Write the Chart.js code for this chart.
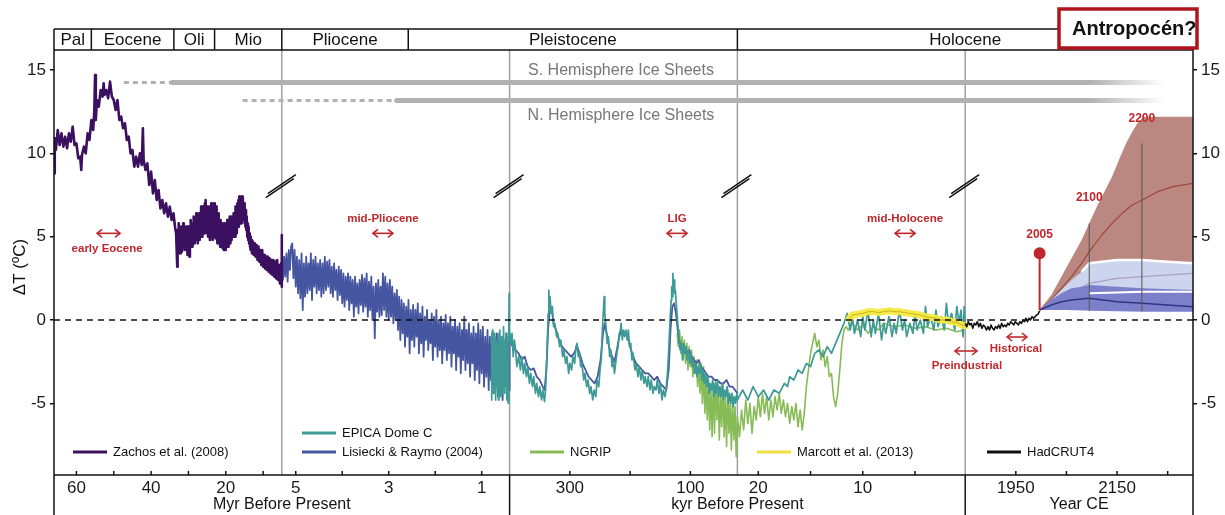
<!DOCTYPE html>
<html><head><meta charset="utf-8">
<script src="https://cdn.jsdelivr.net/npm/chart.js@4.4.1/dist/chart.umd.min.js"></script>
<style>html,body{margin:0;padding:0;background:#fff;overflow:hidden}canvas{display:block}</style>
</head><body>
<canvas id="c" width="1225" height="515"></canvas>
<script>
const FONT = "'Liberation Sans', Arial, Helvetica, sans-serif";
// ---- panel mappings (five equal panels on one linear axis 0..5) ----
function p1(myr){return (66-myr)/61;}
function p2(myr){return 1+(5.3-myr)/4.9;}
function p3(kyr){return 2+(400-kyr)/378;}
function p4(kyr){return 3+(22-kyr)/21.8;}
function p5(yr){return 4+(yr-1850)/450;}
function kyrX(k){ if(k>400) return p2(k/1000); if(k>22) return p3(k); return p4(k); }

// ---- tick labels ----
const ticksPanel1=[60,50,40,30,20,10], ticksPanel1Lab=['60','','40','','20',''];      // Myr
const ticksPanel2=[5,4,3,2,1], ticksPanel2Lab=['5','','3','','1'];                    // Myr
const ticksPanel3=[300,200,100], ticksPanel3Lab=['300','','100'];                     // kyr
const ticksPanel4=[20,15,10,5], ticksPanel4Lab=['20','','10',''];                     // kyr
const ticksPanel5=[1950,2050,2150,2250], ticksPanel5Lab=['1950','','2150',''];        // yr CE
const yTicks=[-5,0,5,10,15];
const epochNames=['Pal','Eocene','Oli','Mio','Pliocene','Pleistocene','Holocene'];
const epochStartsMyr=[56,33.9,23]; const plioPleistMyr=2.58;

// ---- Zachos et al. (2008) [Myr, dT] ----
const zachos=[[66,8.8],[65.8,10.9],[65.5,10.2],[65,11.4],[64.5,10.5],[64,11.2],[63.5,10.4],[63,11.0],[62.5,10.3],[62,11.2],[61.5,10.7],[61,11.6],[60.5,10.5],[60,10.6],[59.5,9.7],[59,9.8],[58.7,9.0],[58.5,9.9],[58,10.4],[57.5,10.0],[57,11.2],[56.5,10.8],[56,12.0],[55.5,11.4],[55.2,12.6],[55,14.7],[54.8,12.0],[54.5,13.2],[54,12.8],[53.5,13.8],[53,13.4],[52.7,14.2],[52.5,13.5],[52,13.8],[51.5,13.3],[51,14.3],[50.5,13.4],[50,13.2],[49.5,12.6],[49,13.2],[48.5,12.0],[48,12.2],[47.5,11.5],[47,11.8],[46.5,10.8],[46,11.0],[45.5,10.0],[45,10.2],[44.5,9.2],[44,9.8],[43.5,9.2],[43,10.0],[42.5,9.3],[42.2,11.5],[42,9.6],[41.5,9.0],[41,9.4],[40.5,8.1],[40,8.9],[39.5,7.6],[39,8.4],[38.5,7.2],[38,7.8],[37.5,6.7],[37,7.2],[36.5,6.4],[36,7.0],[35.5,6.2],[35,6.8],[34.5,6.0],[34,6.4],[33.6,5.6],[33.3,5.2],
[33,3.2],[32.9,5.4],[32.75,4.4],[32.6,5.8],[32.5,4.2],[32.4,5.2],[32.25,4.0],[32.1,5.6],[32,4.6],[31.9,5.4],[31.75,4.1],[31.6,5.0],[31.5,4.4],[31.4,5.8],[31.25,4.6],[31.1,5.5],[31,4.2],[30.9,5.2],[30.75,4.4],[30.6,5.6],[30.5,4.2],[30.4,5.0],[30.25,3.9],[30.1,5.6],[30,4.4],[29.85,5.2],[29.7,3.8],[29.6,5.4],[29.5,4.6],[29.4,6.0],[29.25,4.6],[29.1,5.6],[29,4.4],[28.9,5.8],[28.75,4.6],[28.6,6.2],[28.5,4.8],[28.4,5.6],[28.25,4.6],[28.1,6.0],[28,4.8],[27.9,6.4],[27.75,5.0],[27.6,5.8],[27.5,4.6],[27.4,6.2],[27.25,5.0],[27.1,6.4],[27,4.8],[26.9,6.0],[26.75,5.0],[26.6,6.8],[26.5,5.2],[26.4,6.4],[26.25,5.0],[26.1,6.8],[26,5.4],[25.9,6.6],[25.75,5.2],[25.6,7.0],[25.5,5.6],[25.4,7.2],[25.25,5.4],[25.1,6.6],[25,5.2],[24.9,6.8],[24.75,5.0],[24.6,6.4],[24.5,5.4],[24.4,6.8],[24.25,4.8],[24.1,6.2],[24,5.0],[23.9,7.0],[23.75,5.2],[23.6,6.6],[23.5,4.8],[23.4,6.4],[23.25,5.0],[23.1,7.0],[23,5.4],[22.9,6.6],[22.75,4.9],[22.6,6.8],[22.5,5.2],[22.4,6.4],[22.25,4.6],[22.1,6.2],[22,5.0],[21.9,6.4],[21.75,4.6],[21.6,5.8],[21.5,4.4],[21.4,6.0],[21.25,4.6],[21.1,5.6],[21,4.4],[20.9,5.8],[20.75,4.3],[20.6,5.4],[20.5,4.2],[20.4,5.8],[20.25,4.4],[20.1,5.6],[20,4.2],[19.9,5.6],[19.75,4.4],[19.6,6.0],[19.5,4.6],[19.4,5.8],[19.25,4.4],[19.1,6.0],[19,4.8],[18.9,6.2],[18.75,4.6],[18.6,5.8],[18.5,4.8],[18.4,6.2],[18.25,5.0],[18.1,6.0],[18,5.0],[17.9,6.4],[17.75,5.2],[17.6,6.2],[17.5,5.0],[17.4,6.8],[17.25,5.4],[17.1,6.6],[17,5.2],[16.9,7.0],[16.75,5.6],[16.6,7.2],[16.5,5.6],[16.4,7.4],[16.25,5.8],[16.1,7.0],[16,6.0],[15.9,7.4],[15.75,5.8],[15.6,7.2],[15.5,6.0],[15.4,7.4],[15.25,6.0],[15.1,7.0],[15,5.8],[14.9,6.8],[14.75,5.6],[14.6,6.6],[14.5,5.4],[14.4,6.2],[14.25,5.0],[14.1,5.8],[14,4.8],[13.9,5.6],[13.75,4.6],[13.6,5.2],[13.5,4.4],[13.4,5.0],[13.25,4.2],[13.1,4.8],[13,4.0],[12.75,4.7],[12.5,3.9],[12.25,4.6],[12,3.8],[11.75,4.5],[11.5,3.6],[11.25,4.4],[11,3.5],[10.75,4.2],[10.5,3.3],[10.25,4.2],[10,3.2],[9.75,3.9],[9.5,3.1],[9.25,3.8],[9,3.0],[8.75,3.8],[8.5,2.9],[8.25,3.7],[8,2.8],[7.75,3.6],[7.5,2.7],[7.25,3.6],[7,2.6],[6.75,3.5],[6.5,2.5],[6.25,3.6],[6,2.4],[5.75,3.3],[5.5,2.2],[5.2,3.4],[5.0,5.1],[5.0,2.0]];

// ---- Lisiecki & Raymo (2004) [Myr, dT] panel 2 ----
const lr04Myr=[[5.30,4.0],[5.275,2.4],[5.25,3.8],[5.225,2.6],[5.20,4.0],[5.175,2.3],[5.15,4.2],[5.125,3.0],[5.10,4.4],[5.075,4.6],[5.05,2.5],[5.025,4.2],[5.00,2.0],[4.975,3.8],[4.95,1.6],[4.925,3.6],[4.90,1.3],[4.875,4.0],[4.85,0.6],[4.825,3.4],[4.80,1.4],[4.775,3.8],[4.75,1.6],[4.725,3.4],[4.70,1.8],[4.675,4.0],[4.65,1.2],[4.625,3.6],[4.60,2.0],[4.575,3.8],[4.55,1.6],[4.525,3.4],[4.50,1.8],[4.475,3.6],[4.45,1.4],[4.425,3.4],[4.40,1.6],[4.375,3.8],[4.35,1.8],[4.325,3.5],[4.30,2.0],[4.275,3.6],[4.25,1.6],[4.225,3.2],[4.20,1.4],[4.175,3.4],[4.15,1.8],[4.125,3.0],[4.10,1.2],[4.075,3.2],[4.05,1.5],[4.025,3.0],[4.00,1.0],[3.975,2.8],[3.95,0.8],[3.925,2.6],[3.90,1.2],[3.875,2.8],[3.85,0.6],[3.825,2.6],[3.80,1.0],[3.775,2.4],[3.75,0.2],[3.725,2.6],[3.70,0.8],[3.675,2.2],[3.65,0.4],[3.625,2.4],[3.60,0.9],[3.575,2.7],[3.55,0.5],[3.525,2.5],[3.50,0.8],[3.475,2.8],[3.45,0.2],[3.425,2.3],[3.40,0.6],[3.375,2.6],[3.35,0.0],[3.325,2.0],[3.30,-1.1],[3.275,2.2],[3.25,0.5],[3.225,2.4],[3.20,0.2],[3.175,2.0],[3.15,0.3],[3.125,2.8],[3.10,0.6],[3.075,2.6],[3.05,0.2],[3.025,2.2],[3.00,0.0],[2.975,2.4],[2.95,0.2],[2.925,2.0],[2.90,-0.2],[2.875,1.6],[2.85,0.0],[2.825,1.8],[2.80,-0.6],[2.775,1.4],[2.75,-1.2],[2.725,1.2],[2.70,-0.8],[2.675,1.0],[2.65,-1.6],[2.625,0.8],[2.60,-1.0],[2.575,1.2],[2.55,-2.0],[2.525,0.6],[2.50,-1.2],[2.475,0.9],[2.45,-1.6],[2.425,0.6],[2.40,-1.0],[2.375,1.0],[2.35,-2.0],[2.325,0.4],[2.30,-1.4],[2.275,0.8],[2.25,-2.2],[2.225,0.2],[2.20,-1.2],[2.175,0.6],[2.15,-1.8],[2.125,0.0],[2.10,-1.4],[2.075,0.4],[2.05,-2.4],[2.025,0.2],[2.00,-1.6],[1.975,0.6],[1.95,-2.2],[1.925,0.0],[1.90,-1.8],[1.875,0.2],[1.85,-2.6],[1.825,-0.2],[1.80,-1.8],[1.775,0.3],[1.75,-2.4],[1.725,-0.2],[1.70,-2.0],[1.675,0.2],[1.65,-2.8],[1.625,-0.4],[1.60,-2.0],[1.575,0.0],[1.55,-3.0],[1.525,-0.4],[1.50,-2.2],[1.475,-0.2],[1.45,-3.2],[1.425,-0.6],[1.40,-2.4],[1.375,0.2],[1.35,-3.0],[1.325,-0.6],[1.30,-2.6],[1.275,-0.2],[1.25,-3.4],[1.225,-0.8],[1.20,-2.6],[1.175,-0.4],[1.15,-3.6],[1.125,-0.8],[1.10,-3.0],[1.075,-0.2],[1.05,-3.8],[1.025,-0.6],[1.00,-3.2],[0.975,-0.4],[0.95,-4.0],[0.925,-1.0],[0.90,-3.4],[0.875,-0.6],[0.85,-4.2],[0.825,-1.0],[0.80,-3.6],[0.775,-0.8],[0.75,-4.4],[0.725,-1.0],[0.70,-3.8],[0.675,-0.8],[0.65,-4.6],[0.625,-1.2],[0.60,-3.8],[0.575,-1.0],[0.55,-4.8],[0.525,-1.2],[0.50,-4.0],[0.475,-0.8],[0.45,-4.6],[0.425,-1.0],[0.40,-4.2]];
// ---- Lisiecki & Raymo (2004) [kyr, dT] panel 3 ----
const lr04Kyr=[[400,-1.0],[395,-1.6],[390,-1.8],[385,-2.0],[380,-2.4],[375,-2.2],[370,-2.8],[365,-3.0],[360,-2.9],[355,-3.4],[350,-3.6],[345,-4.0],[342,-4.2],[339,-3.0],[336,-0.5],[333,0.8],[330,0.6],[327,-0.2],[323,-0.6],[318,-1.2],[313,-1.6],[308,-1.8],[303,-2.0],[298,-2.2],[293,-2.0],[288,-1.6],[284,-2.0],[279,-2.6],[274,-3.0],[269,-3.4],[264,-3.6],[259,-3.8],[254,-3.4],[249,-2.4],[245,-0.8],[242,-0.2],[239,-0.8],[235,-1.6],[230,-2.2],[226,-2.5],[222,-1.8],[218,-1.0],[215,-0.6],[212,-0.8],[208,-0.8],[204,-1.0],[200,-1.6],[195,-2.2],[190,-2.6],[185,-2.8],[180,-3.0],[175,-3.2],[170,-3.2],[165,-3.4],[160,-3.6],[155,-3.4],[150,-3.8],[145,-4.0],[140,-4.2],[136,-3.0],[133,-0.6],[130,0.8],[127,1.0],[124,0.4],[121,-0.6],[118,-1.4],[114,-1.8],[110,-1.6],[106,-2.0],[102,-1.8],[98,-2.2],[94,-2.4],[90,-2.6],[86,-2.4],[82,-2.8],[78,-3.0],[74,-3.2],[70,-3.4],[65,-3.4],[60,-3.6],[55,-3.6],[50,-3.8],[45,-3.8],[40,-3.6],[35,-4.0],[30,-4.0],[26,-4.2],[22,-4.4]];
// ---- EPICA Dome C [kyr, dT] ----
const epica=[[800,-4.8],[790,-1.0],[780,-4.2],[770,-0.6],[760,-3.8],[750,-1.2],[740,-4.4],[730,-0.8],[720,-3.0],[710,-1.4],[700,-4.8],[690,-1.2],[680,-4.0],[670,-1.6],[660,-4.4],[650,-2.0],[640,-4.8],[630,-0.8],[620,-3.2],[610,-0.6],[600,-4.6],[590,-1.6],[580,-3.8],[570,-1.0],[560,-4.4],[550,-1.8],[540,-3.6],[530,-0.4],[520,-3.0],[510,-1.4],[500,-4.4],[490,-1.2],[480,-3.8],[470,-0.8],[460,-4.8],[450,-2.4],[440,-4.4],[430,-5.0],[420,-3.2],[415,-1.0],[410,1.6],[405,-0.6],
[398,-1.4],[396,-0.8],[394,-2.2],[392,-1.2],[390,-1.8],[388,-2.8],[385,-2.2],[382,-3.0],[380,-2.2],[377,-3.2],[375,-2.6],[372,-3.4],[370,-2.8],[367,-3.8],[365,-3.2],[362,-4.0],[360,-3.4],[357,-4.4],[355,-3.8],[352,-4.6],[350,-4.0],[347,-4.8],[345,-4.2],[342,-4.9],[340,-4.0],[338,-2.0],[336,0.4],[335,1.8],[334,0.6],[333,1.4],[331,0.4],[329,0.8],[327,-0.4],[325,-0.2],[322,-1.0],[320,-0.8],[317,-1.6],[315,-1.2],[312,-2.2],[310,-1.8],[307,-2.6],[305,-2.2],[302,-3.2],[300,-2.6],[297,-3.0],[295,-2.2],[292,-2.6],[290,-1.6],[288,-1.4],[286,-2.2],[284,-2.0],[282,-2.8],[280,-2.6],[277,-3.6],[275,-3.2],[272,-4.0],[270,-3.6],[267,-4.4],[265,-4.0],[262,-4.8],[260,-4.2],[257,-4.6],[255,-3.6],[252,-4.0],[250,-3.0],[248,-2.4],[246,-0.6],[244,0.8],[243,1.4],[242,0.4],[240,-0.4],[238,-1.4],[236,-1.0],[234,-2.2],[232,-1.8],[230,-2.8],[228,-2.4],[226,-3.2],[224,-2.6],[222,-2.0],[220,-1.6],[218,-0.8],[216,-0.6],[215,-0.2],[213,-1.2],[211,-0.6],[209,-1.0],[207,-0.6],[205,-1.2],[203,-0.6],[201,-1.6],[199,-1.4],[197,-2.4],[195,-2.0],[192,-3.0],[190,-2.6],[187,-3.4],[185,-2.8],[182,-3.6],[180,-3.0],[177,-3.8],[175,-3.4],[172,-4.0],[170,-3.4],[167,-4.2],[165,-3.6],[162,-4.4],[160,-4.0],[157,-4.2],[155,-3.6],[152,-4.4],[150,-3.8],[147,-4.8],[145,-4.2],[142,-4.6],[140,-4.0],[138,-3.2],[136,-1.8],[134,-0.2],[132,1.2],[131,2.0],[130,1.4],[129,2.8],[128,1.8],[127,2.4],[126,1.6],[125,1.8],[123,0.8],[121,-0.2],[119,-1.0],[117,-1.8],[115,-1.4],[113,-2.4],[111,-1.4],[109,-2.0],[107,-1.6],[105,-2.4],[103,-1.8],[101,-2.6],[99,-2.0],[97,-2.8],[95,-2.4],[93,-3.2],[91,-2.6],[89,-3.4],[87,-2.8],[85,-3.2],[83,-2.6],[81,-3.6],[79,-3.0],[77,-3.8],[75,-3.2],[73,-4.0],[71,-3.4],[69,-4.4],[67,-3.8],[65,-4.2],[63,-3.6],[61,-4.6],[59,-3.8],[57,-4.4],[55,-3.6],[53,-4.6],[51,-4.0],[49,-4.6],[47,-3.8],[45,-4.8],[43,-4.2],[41,-4.6],[39,-4.0],[37,-5.0],[35,-4.4],[33,-5.0],[31,-4.4],[29,-5.2],[27,-4.6],[25,-5.0],[23,-4.4],[22,-4.8],
[21.5,-4.2],[21,-4.8],[20.5,-4.0],[20,-4.6],[19.5,-4.2],[19,-4.8],[18.5,-4.2],[18,-4.4],[17.5,-3.8],[17.2,-4.0],[17.0,-3.4],[16.6,-3.6],[16.2,-3.0],[15.8,-3.2],[15.4,-2.6],[15.0,-2.8],[14.6,-2.0],[14.2,-1.8],[13.8,-2.2],[13.4,-1.6],[13.0,-2.0],[12.6,-1.4],[12.2,-0.8],[11.8,-0.2],[11.5,0.4],[11.2,-0.6],[11.0,0.2],[10.8,-0.8],[10.5,0.0],[10.2,-1.0],[10.0,0.2],[9.8,-0.6],[9.5,0.6],[9.2,-1.0],[9.0,0.0],[8.8,-0.8],[8.5,0.4],[8.2,-1.2],[8.0,-0.2],[7.8,-0.8],[7.5,0.2],[7.2,-1.0],[7.0,-0.2],[6.8,-0.8],[6.5,0.6],[6.2,-0.6],[6.0,0.0],[5.8,-1.0],[5.5,-0.2],[5.2,-0.8],[5.0,0.4],[4.8,-0.6],[4.5,0.0],[4.2,-0.8],[4.0,0.8],[3.8,-0.4],[3.5,0.2],[3.2,-0.6],[3.0,0.6],[2.8,-0.4],[2.5,0.2],[2.2,-0.6],[2.0,1.0],[1.8,-0.2],[1.5,0.4],[1.2,-0.6],[1.0,0.8],[0.8,-0.2],[0.6,0.6],[0.4,-1.0],[0.3,0.8],[0.2,-0.4]];
// ---- NGRIP [kyr, dT] ----
const ngrip=[[122,-0.8],[120,-1.6],[118,-0.6],[116,-2.0],[114,-1.0],[112,-2.4],[110,-1.2],[108,-2.6],[106,-1.4],[104,-3.0],[102,-1.6],[100,-2.8],[98,-1.8],[96,-3.4],[94,-2.2],[92,-3.2],[90,-2.4],[88,-4.0],[86,-2.6],[84,-4.4],[82,-3.0],[80,-5.0],[78,-2.8],[76,-5.6],[74,-3.4],[72,-6.0],[70,-3.6],[68,-6.6],[66,-4.0],[64,-7.0],[62,-3.8],[60,-6.8],[58,-3.6],[56,-6.0],[54,-4.0],[52,-7.2],[50,-4.4],[48,-6.4],[46,-3.8],[44,-7.0],[42,-4.6],[40,-7.6],[38,-4.2],[36,-6.8],[34,-5.0],[32,-7.8],[30,-4.6],[28,-7.2],[26,-5.2],[24,-8.2],[22,-5.8],
[21.8,-7.0],[21.6,-5.4],[21.4,-6.6],[21.2,-4.8],[21.0,-6.2],[20.8,-5.0],[20.6,-6.8],[20.4,-5.2],[20.2,-6.0],[20.0,-4.6],[19.8,-5.8],[19.6,-4.4],[19.4,-5.6],[19.2,-4.6],[19.0,-6.0],[18.8,-4.8],[18.6,-5.8],[18.4,-4.6],[18.2,-5.4],[18.0,-4.4],[17.8,-5.6],[17.6,-4.8],[17.4,-5.8],[17.2,-5.0],[17.0,-6.2],[16.8,-5.2],[16.6,-6.0],[16.4,-5.0],[16.2,-6.4],[16.0,-5.4],[15.8,-6.6],[15.6,-5.6],[15.4,-4.0],[15.2,-3.0],[15.0,-2.0],[14.8,-1.4],[14.6,-0.8],[14.4,-1.6],[14.2,-1.2],[14.0,-2.4],[13.8,-1.8],[13.6,-2.8],[13.4,-2.2],[13.2,-3.4],[13.0,-3.2],[12.8,-4.6],[12.6,-5.2],[12.4,-4.4],[12.2,-3.0],[12.0,-1.4],[11.8,-0.6],[11.6,-0.4],[11.4,-0.6],[11.0,-0.2],[10.5,-0.6],[10.0,-0.3],[9.5,-0.8],[9.0,-0.4],[8.5,-0.6],[8.0,-0.2],[7.0,-0.4],[6.0,-0.3],[5.0,-0.5],[4.0,-0.4],[3.0,-0.6],[2.0,-0.5],[1.0,-0.7],[0.3,-0.6]];
// ---- Marcott et al. (2013) [kyr, dT] ----
const marcott=[[11.3,0.1],[11.0,0.3],[10.5,0.35],[10.0,0.4],[9.5,0.5],[9.0,0.5],[8.5,0.45],[8.0,0.5],[7.5,0.55],[7.0,0.5],[6.5,0.5],[6.0,0.45],[5.5,0.4],[5.0,0.35],[4.5,0.3],[4.0,0.2],[3.5,0.15],[3.0,0.1],[2.5,0.0],[2.0,0.0],[1.5,-0.1],[1.0,-0.15],[0.5,-0.3],[0.2,-0.35]];
// ---- HadCRUT4 [year CE, dT] ----
const hadcrut=[[1850,-0.2],[1853,-0.4],[1856,-0.1],[1859,-0.3],[1862,-0.2],[1865,-0.5],[1868,-0.2],[1871,-0.3],[1874,-0.1],[1877,-0.4],[1880,-0.2],[1883,-0.5],[1886,-0.3],[1889,-0.4],[1892,-0.6],[1895,-0.4],[1898,-0.6],[1901,-0.3],[1904,-0.5],[1907,-0.6],[1910,-0.4],[1913,-0.5],[1916,-0.3],[1919,-0.5],[1922,-0.2],[1925,-0.4],[1928,-0.3],[1931,-0.4],[1934,-0.2],[1937,-0.3],[1940,-0.1],[1943,-0.2],[1946,-0.3],[1949,-0.1],[1952,-0.2],[1955,-0.3],[1958,-0.1],[1961,-0.2],[1964,0.0],[1967,-0.1],[1970,0.1],[1973,-0.1],[1976,0.1],[1979,0.0],[1982,0.2],[1985,0.1],[1988,0.2],[1991,0.3],[1994,0.35],[1997,0.55]];
// ---- projections [year CE, dT] ----
const redHi=[[1997,0.6],[2020,1.5],[2040,2.6],[2060,3.7],[2080,4.8],[2095,5.8],[2110,6.8],[2125,7.7],[2140,8.6],[2155,9.7],[2168,10.6],[2180,11.3],[2190,11.8],[2203,12.2],[2300,12.2]];
const redLo=[[1997,0.6],[2020,0.8],[2050,1.4],[2095,2.4],[2150,3.0],[2200,3.3],[2300,3.5]];
const redMean=[[1997,0.6],[2020,1.2],[2040,1.9],[2060,2.6],[2080,3.4],[2095,4.1],[2120,5.1],[2140,5.8],[2160,6.4],[2180,6.9],[2200,7.2],[2230,7.7],[2260,8.0],[2300,8.2]];
const lbHi=[[1997,0.6],[2020,1.2],[2040,1.8],[2060,2.4],[2080,2.9],[2095,3.4],[2120,3.5],[2150,3.6],[2200,3.6],[2250,3.5],[2300,3.4]];
const lbLo=[[1997,0.6],[2020,0.9],[2050,1.2],[2095,1.6],[2150,1.65],[2200,1.7],[2300,1.7]];
const lbMean=[[1997,0.6],[2040,1.4],[2095,2.2],[2150,2.5],[2200,2.6],[2300,2.8]];
const dbHi=[[1997,0.6],[2020,1.2],[2040,1.6],[2060,1.9],[2080,2.0],[2095,2.1],[2150,2.0],[2200,1.9],[2300,1.8]];
const dbLo=[[1997,0.6],[2020,0.6],[2050,0.6],[2100,0.55],[2200,0.5],[2300,0.5]];
const dbMean=[[1997,0.6],[2020,0.9],[2040,1.1],[2060,1.2],[2095,1.3],[2150,1.1],[2200,1.0],[2250,0.9],[2300,0.8]];
const mark2100=[[2095,0.55],[2095,5.8]];
const mark2200=[[2199,0.55],[2199,10.6]];
const pin2005=[[1997,0.6],[1997,4.0]];
// ---- ice sheets ----
const iceSH={label:'S. Hemisphere Ice Sheets', level:14.25, dashMyr:47.3, solidMyr:34.4, endYr:2244};
const iceNH={label:'N. Hemisphere Ice Sheets', level:13.17, dashMyr:15.5, solidMyrP2:2.83, endYr:2244};

const pts=(arr,fx)=>arr.map(([t,v])=>({x:fx(t),y:v}));
const RED='#c0272d';

function line(label,data,color,width,order,extra){
  return Object.assign({label,data,borderColor:color,borderWidth:width,pointRadius:0,fill:false,tension:0,order},extra||{});
}
const yrPts=a=>pts(a,p5);
const datasets=[
  line('Zachos et al. (2008)',pts(zachos,p1),'#3c1060',2.6,10),
  line('Lisiecki & Raymo (2004)',pts(lr04Myr,p2).concat(pts(lr04Kyr,kyrX)),'#4555a0',1.8,14),
  line('EPICA Dome C',pts(epica,kyrX),'#3d9a94',1.7,12),
  line('NGRIP',pts(ngrip,kyrX),'#86bb55',1.6,16),
  line('Marcott band',pts(marcott,kyrX),'rgba(246,234,64,0.95)',7,8,{borderCapStyle:'round'}),
  line('Marcott et al. (2013)',pts(marcott,kyrX),'#c9b51c',1,7),
  line('HadCRUT4',yrPts(hadcrut),'#111',1.6,6),
  line('2005',yrPts(pin2005),RED,2,5,{pointRadius:[0,5],pointBackgroundColor:RED,pointBorderColor:RED}),
  line('redLo',yrPts(redLo),'rgba(0,0,0,0)',0,40),
  line('redHi',yrPts(redHi),'rgba(0,0,0,0)',0,39,{fill:'-1',backgroundColor:'rgb(186,136,128)'}),
  line('redMean',yrPts(redMean),'#a0463c',1.2,38),
  line('lbLo',yrPts(lbLo),'rgba(0,0,0,0)',0,37),
  line('lbHi',yrPts(lbHi),'rgba(0,0,0,0)',0,36,{fill:'-1',backgroundColor:'rgb(204,212,238)'}),
  line('lbHiEdge',yrPts(lbHi.filter(p=>p[0]>=2080)),'#ffffff',2.5,35),
  line('lbMean',yrPts(lbMean),'#ab9fc4',1.2,34),
  line('dbLo',yrPts(dbLo),'rgba(0,0,0,0)',0,33),
  line('dbHi',yrPts(dbHi),'rgba(0,0,0,0)',0,32,{fill:'-1',backgroundColor:'rgb(124,128,202)'}),
  line('lbLoEdge',yrPts(lbLo.filter(p=>p[0]>=2080)),'#ffffff',2,31),
  line('dbMean',yrPts(dbMean),'#2f3585',1.5,30),
  line('2100',yrPts(mark2100),'#555',1,29),
  line('2200',yrPts(mark2200),'#555',1,29),
];

const xTicks=[].concat(
  ticksPanel1.map((v,i)=>({x:p1(v),label:ticksPanel1Lab[i]})),
  ticksPanel2.map((v,i)=>({x:p2(v),label:ticksPanel2Lab[i]})),
  ticksPanel3.map((v,i)=>({x:p3(v),label:ticksPanel3Lab[i]})),
  ticksPanel4.map((v,i)=>({x:p4(v),label:ticksPanel4Lab[i]})),
  ticksPanel5.map((v,i)=>({x:p5(v),label:ticksPanel5Lab[i]})));

const redNotes=[
  {text:'early Eocene',x:0.233,y:4.3,a1:0.189,a2:0.290,ay:5.2},
  {text:'mid-Pliocene',x:1.444,y:6.1,a1:1.400,a2:1.488,ay:5.2},
  {text:'LIG',x:2.735,y:6.1,a1:2.691,a2:2.779,ay:5.2},
  {text:'mid-Holocene',x:3.736,y:6.1,a1:3.692,a2:3.780,ay:5.2},
  {text:'Preindustrial',x:4.008,y:-2.75,a1:3.955,a2:4.052,ay:-1.86},
  {text:'Historical',x:4.223,y:-1.74,a1:4.184,a2:4.271,ay:-1.02}];
const yearNotes=[{text:'2005',yr:1997,y:5.1},{text:'2100',yr:2095,y:7.35},{text:'2200',yr:2199,y:12.1}];
const legendItems=[
  {label:'Zachos et al. (2008)',color:'#3f1260',x:73,y:452},
  {label:'EPICA Dome C',color:'#3d9a94',x:302,y:433},
  {label:'Lisiecki & Raymo (2004)',color:'#4656a0',x:302,y:452},
  {label:'NGRIP',color:'#86bb55',x:530,y:452},
  {label:'Marcott et al. (2013)',color:'#f0e040',x:757,y:452},
  {label:'HadCRUT4',color:'#111',x:987,y:452}];

function T(ctx,s,x,y,font,color,align,base){ctx.font=font;ctx.fillStyle=color;ctx.textAlign=align||'center';ctx.textBaseline=base||'middle';ctx.fillText(s,x,y);}
function L(ctx,x1,y1,x2,y2){ctx.beginPath();ctx.moveTo(x1,y1);ctx.lineTo(x2,y2);ctx.stroke();}
function arrow(ctx,x1,x2,y){ctx.strokeStyle=RED;ctx.lineWidth=1.6;L(ctx,x1,y,x2,y);
  ctx.beginPath();ctx.moveTo(x1+5,y-4);ctx.lineTo(x1,y);ctx.lineTo(x1+5,y+4);ctx.stroke();
  ctx.beginPath();ctx.moveTo(x2-5,y-4);ctx.lineTo(x2,y);ctx.lineTo(x2-5,y+4);ctx.stroke();}

const deco={id:'deco',
  beforeDraw(chart){const c=chart.ctx;c.save();c.fillStyle='#fff';c.fillRect(0,0,chart.width,chart.height);c.restore();},
  beforeDatasetsDraw(chart){
    const {ctx,scales:{x,y},chartArea:a}=chart; ctx.save();
    ctx.strokeStyle='#a0a0a0';ctx.lineWidth=1.5;
    [1,2,3,4].forEach(v=>{const px=x.getPixelForValue(v);L(ctx,px,a.top,px,a.bottom);});
    [[iceSH,p1(iceSH.solidMyr)],[iceNH,p2(iceNH.solidMyrP2)]].forEach(([s,sx])=>{
      const yy=y.getPixelForValue(s.level), xd=x.getPixelForValue(p1(s.dashMyr)), xs=x.getPixelForValue(sx), xe=x.getPixelForValue(p5(s.endYr));
      ctx.setLineDash([5,4]);ctx.lineWidth=3;ctx.strokeStyle='#b2b2b2';L(ctx,xd,yy,xs,yy);ctx.setLineDash([]);
      const g=ctx.createLinearGradient(xs,0,xe,0);g.addColorStop(0,'rgba(178,178,178,1)');g.addColorStop((xe-75-xs)/(xe-xs),'rgba(178,178,178,1)');g.addColorStop(1,'rgba(178,178,178,0)');
      ctx.strokeStyle=g;ctx.lineWidth=5;ctx.lineCap='round';L(ctx,xs,yy,xe,yy);ctx.lineCap='butt';
      T(ctx,s.label,x.getPixelForValue(2.489),y.getPixelForValue(s===iceSH?14.97:12.28),'16px '+FONT,'#777');
    });
    ctx.restore();
  },
  afterDatasetsDraw(chart){
    const {ctx,scales:{x,y},chartArea:a}=chart; ctx.save();
    ctx.strokeStyle='#111';ctx.lineWidth=1.5;ctx.setLineDash([6,5]);const y0=y.getPixelForValue(0);L(ctx,a.left,y0,a.right,y0);ctx.setLineDash([]);
    ctx.strokeStyle='#111';ctx.lineWidth=1.5;
    [1,2,3,4].forEach(v=>{const cx=x.getPixelForValue(v)-1,cy=y.getPixelForValue(8.0);
      L(ctx,cx-13,cy+7,cx+15,cy-12);L(ctx,cx-15,cy+11,cx+13,cy-8);});
    redNotes.forEach(n=>{T(ctx,n.text,x.getPixelForValue(n.x),y.getPixelForValue(n.y),'bold 11.5px '+FONT,RED);
      arrow(ctx,x.getPixelForValue(n.a1),x.getPixelForValue(n.a2),y.getPixelForValue(n.ay));});
    yearNotes.forEach(n=>T(ctx,n.text,x.getPixelForValue(p5(n.yr)),y.getPixelForValue(n.y),'bold 12px '+FONT,RED));
    legendItems.forEach(it=>{ctx.strokeStyle=it.color;ctx.lineWidth=3;L(ctx,it.x,it.y,it.x+34,it.y);
      T(ctx,it.label,it.x+40,it.y,'13px '+FONT,'#111','left');});
    ctx.restore();
  },
  afterDraw(chart){
    const {ctx,scales:{x,y},chartArea:a}=chart; ctx.save();
    ctx.strokeStyle='#111';ctx.lineWidth=1.5;
    L(ctx,a.left,29,a.left,515);L(ctx,a.right,29,a.right,515);
    L(ctx,a.left,29,a.right,29);L(ctx,a.left,a.top,a.right,a.top);L(ctx,a.left,a.bottom,a.right,a.bottom);
    [2,4].forEach(v=>{const px=x.getPixelForValue(v);L(ctx,px,a.bottom,px,515);});
    xTicks.forEach(t=>{const px=x.getPixelForValue(t.x);L(ctx,px,a.bottom,px,a.bottom-4);});
    const bounds=[0].concat(epochStartsMyr.map(p1),[1,p2(plioPleistMyr),3,5]);
    for(let i=1;i<bounds.length-1;i++){const px=x.getPixelForValue(bounds[i]);L(ctx,px,29,px,a.top);}
    epochNames.forEach((n,i)=>T(ctx,n,(x.getPixelForValue(bounds[i])+x.getPixelForValue(bounds[i+1]))/2,40,'17px '+FONT,'#111'));
    T(ctx,'Myr Before Present',x.getPixelForValue(1),505,'16px '+FONT,'#111');
    T(ctx,'kyr Before Present',x.getPixelForValue(3),505,'16px '+FONT,'#111');
    T(ctx,'Year CE',x.getPixelForValue(4.5),505,'16px '+FONT,'#111');
    ctx.save();ctx.translate(20,267);ctx.rotate(-Math.PI/2);T(ctx,'ΔT (ºC)',0,0,'17px '+FONT,'#111');ctx.restore();
    ctx.fillStyle='#fff';ctx.fillRect(1059,9,138,39);ctx.strokeStyle='#b0151d';ctx.lineWidth=3.5;ctx.strokeRect(1059,9,138,39);
    T(ctx,'Antropocén?',1072,29,'bold 20px '+FONT,'#111','left');
    ctx.restore();
  }};

const yTickOpts={font:{size:17,family:FONT},color:'#1a1a1a',padding:4};
new Chart(document.getElementById('c'),{
  type:'line',
  data:{datasets},
  options:{responsive:false,animation:false,devicePixelRatio:1,
    layout:{padding:{top:50,left:0,right:0,bottom:0}},
    plugins:{legend:{display:false},tooltip:{enabled:false}},
    elements:{line:{borderJoinStyle:'round'}},
    scales:{
      x:{type:'linear',min:0,max:5,
        afterBuildTicks:s=>{s.ticks=xTicks.map(t=>({value:t.x}));},
        ticks:{autoSkip:false,maxRotation:0,minRotation:0,padding:3,font:{size:17,family:FONT},color:'#1a1a1a',
          callback:(v,i)=>xTicks[i]?xTicks[i].label:''},
        grid:{display:false,drawTicks:false},border:{display:false},
        afterFit:s=>{s.height=40;}},
      y:{type:'linear',position:'left',min:-9.3,max:16.2,
        afterBuildTicks:s=>{s.ticks=yTicks.map(v=>({value:v}));},
        ticks:yTickOpts,grid:{drawOnChartArea:false,drawTicks:true,tickLength:4,color:'#111',lineWidth:1.5},border:{display:false},
        afterFit:s=>{s.width=54;}},
      y2:{type:'linear',position:'right',min:-9.3,max:16.2,
        afterBuildTicks:s=>{s.ticks=yTicks.map(v=>({value:v}));},
        ticks:yTickOpts,grid:{drawOnChartArea:false,drawTicks:true,tickLength:4,color:'#111',lineWidth:1.5},border:{display:false},
        afterFit:s=>{s.width=32;}}
    }},
  plugins:[deco]
});
</script>
</body></html>
